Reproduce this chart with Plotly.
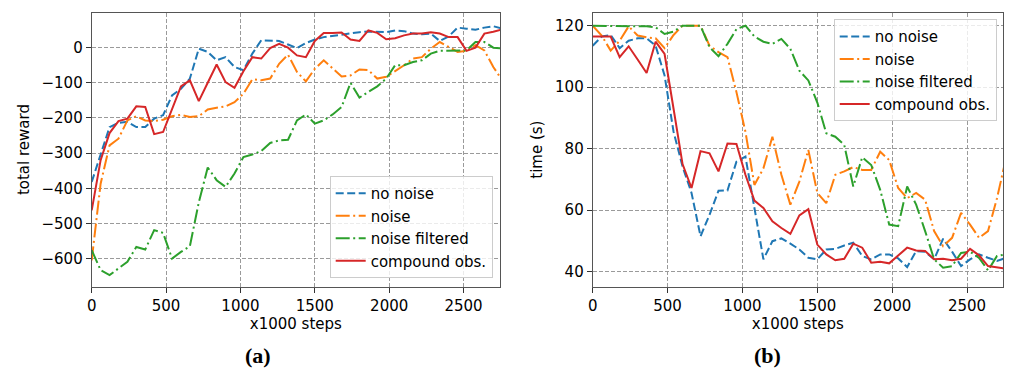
import plotly.graph_objects as go

# ---------------- data ----------------
steps = list(range(0, 2761, 60))  # x1000 steps

series_names = ["no noise", "noise", "noise filtered", "compound obs."]

reward_no_noise = [-382, -301, -226, -214, -211, -226, -226, -202, -192, -136,
                   -117, -88, -3, -12, -36, -27, -55, -64, -17, 21,
                   21, 19, 9, -1, 13, 23, 30, 34, 38, 40,
                   44, 46, 44, 44, 49, 47, 40, 38, 40, 19,
                   32, 57, 54, 51, 57, 61, 54]
reward_noise = [-605, -387, -278, -259, -207, -195, -207, -209, -205, -195,
                -191, -197, -195, -176, -171, -167, -155, -131, -90, -93,
                -88, -46, -20, -69, -96, -60, -36, -60, -82, -79,
                -62, -64, -88, -83, -67, -50, -31, -27, -3, 16,
                2, -12, -9, 7, -8, -55, -93]
reward_noise_filtered = [-576, -633, -647, -628, -609, -567, -574, -519, -527, -600,
                         -581, -565, -440, -341, -377, -396, -358, -311, -304, -294,
                         -271, -264, -262, -207, -190, -216, -207, -190, -169, -100,
                         -142, -126, -110, -88, -50, -50, -41, -36, -17, -9,
                         -8, -9, -8, 16, 16, 0, -2]
reward_compound = [-463, -320, -243, -209, -202, -167, -169, -246, -240, -175,
                   -110, -93, -152, -100, -48, -98, -114, -67, -27, -31,
                   -1, 11, 0, -22, -27, 19, 42, 42, 43, 23,
                   19, 49, 42, 24, 27, 35, 40, 40, 44, 40,
                   30, 30, -9, 0, 40, 45, 52]

time_no_noise = [113.5, 116.5, 117, 112.7, 115.1, 115.9, 115.9, 113.5, 103.8, 85.5,
                 74.2, 65.6, 51.5, 58.5, 66.3, 66.4, 75.8, 77.4, 60.7, 44,
                 49.9, 50.8, 49.1, 47.2, 44.5, 44, 47.2, 47.4, 48.5, 49.4,
                 45.1, 44, 45.6, 45.6, 44.3, 41.5, 46.7, 46.5, 44, 50.7,
                 46.5, 41.8, 44, 45.6, 44.5, 43.5, 44.5]
time_noise = [120, 116.8, 111.9, 115.1, 119.8, 116.8, 116.2, 115.9, 112.7, 117,
              120, 120, 120, 113.5, 111.4, 109.8, 98.4, 85.5, 68.2, 73.6,
              83.9, 71.5, 61.8, 69.3, 79.6, 65.6, 62.3, 71.5, 72.6, 74,
              73.1, 73.1, 79, 76.3, 67.2, 63.9, 65.6, 63.4, 53.2, 48.3,
              51, 59.1, 55.3, 51, 53.2, 63.9, 76.9]
time_noise_filtered = [120, 120, 120, 120, 120, 119.8, 119.8, 119.5, 117.3, 118.1,
                       120, 120, 120, 113, 110.1, 114.1, 118.9, 120, 116.5, 114.8,
                       114.1, 115.7, 112.5, 105.4, 102.2, 95, 85, 83.9, 81.2, 67.7,
                       77.2, 74.7, 66.6, 55.3, 54.8, 67.7, 61.8, 53.2, 44, 41.3,
                       41.8, 46.1, 46.5, 44.5, 40.4, 45.1, 45.6]
time_compound = [116.5, 116.5, 116.5, 109.8, 113.3, 109, 104.6, 114.8, 110.8, 93,
                 75, 67.2, 79.2, 78.5, 72.6, 81.7, 81.5, 71.5, 63.1, 60.7,
                 56.4, 54.2, 52.3, 58.3, 60.3, 48.8, 45.6, 43.7, 44.2, 49.1,
                 47.8, 42.9, 43.2, 42.7, 45.1, 47.8, 46.9, 46.7, 44, 44.2,
                 43.7, 44.2, 47.4, 45.3, 41.8, 41.5, 41]

x_ticks = [0, 500, 1000, 1500, 2000, 2500]
reward_ticks = [-600, -500, -400, -300, -200, -100, 0]
reward_tick_labels = ["\u2212600", "\u2212500", "\u2212400", "\u2212300", "\u2212200", "\u2212100", "0"]
time_ticks = [40, 60, 80, 100, 120]
time_tick_labels = ["40", "60", "80", "100", "120"]

# ---------------- styles ----------------
colors = ["#1f77b4", "#ff7f0e", "#2ca02c", "#d62728"]
dashes = ["8px,3.5px", "14px,3.5px,2px,3.5px", "14px,3.5px,2px,3.5px", "solid"]
FONT = "DejaVu Sans"

fig = go.Figure()

left_data = [reward_no_noise, reward_noise, reward_noise_filtered, reward_compound]
right_data = [time_no_noise, time_noise, time_noise_filtered, time_compound]

for name, ys, c, d in zip(series_names, left_data, colors, dashes):
    fig.add_trace(go.Scatter(x=steps, y=ys, mode="lines", name=name,
                             line=dict(color=c, width=2, dash=d),
                             xaxis="x", yaxis="y", legend="legend"))
for name, ys, c, d in zip(series_names, right_data, colors, dashes):
    fig.add_trace(go.Scatter(x=steps, y=ys, mode="lines", name=name,
                             line=dict(color=c, width=2, dash=d),
                             xaxis="x2", yaxis="y2", legend="legend2"))

W, H = 1014, 370
axis_common = dict(
    showline=True, mirror=True, linecolor="#555555", linewidth=1,
    ticks="outside", ticklen=5, tickcolor="#333333", tickwidth=1,
    showgrid=True, gridcolor="#9a9a9a", griddash="4px,2px", gridwidth=1,
    zeroline=False, automargin=False,
    tickfont=dict(family=FONT, size=15, color="#000000"),
)

y0, y1 = (H - 286.7) / H, (H - 12.5) / H

fig.update_layout(
    width=W, height=H,
    margin=dict(l=0, r=0, t=0, b=0),
    paper_bgcolor="white", plot_bgcolor="white",
    font=dict(family=FONT, size=15, color="#000000"),
    xaxis=dict(axis_common, domain=[91.7 / W, 500 / W], range=[0, 2745],
               tickvals=x_ticks, anchor="y",
               title=dict(text="x1000 steps", standoff=3,
                          font=dict(family=FONT, size=15))),
    yaxis=dict(axis_common, domain=[y0, y1], range=[-680, 100],
               tickvals=reward_ticks, ticktext=reward_tick_labels, anchor="x",
               title=dict(text="total reward", standoff=8,
                          font=dict(family=FONT, size=15))),
    xaxis2=dict(axis_common, domain=[592.7 / W, 1003 / W], range=[0, 2740],
                tickvals=x_ticks, anchor="y2",
                title=dict(text="x1000 steps", standoff=3,
                           font=dict(family=FONT, size=15))),
    yaxis2=dict(axis_common, domain=[y0, y1], range=[35.1, 124.3],
                tickvals=time_ticks, ticktext=time_tick_labels, anchor="x2",
                title=dict(text="time (s)", standoff=8,
                           font=dict(family=FONT, size=15))),
    legend=dict(x=492.7 / W, xanchor="right", y=(H - 278) / H, yanchor="bottom",
                bgcolor="rgba(255,255,255,0.8)", bordercolor="#cccccc", borderwidth=1,
                font=dict(family=FONT, size=15), itemwidth=30),
    legend2=dict(x=996.7 / W, xanchor="right", y=(H - 19.3) / H, yanchor="top",
                 bgcolor="rgba(255,255,255,0.8)", bordercolor="#cccccc", borderwidth=1,
                 font=dict(family=FONT, size=15), itemwidth=30),
    annotations=[
        dict(text="<b>(a)</b>", x=258 / W, y=(H - 355) / H, xref="paper", yref="paper",
             xanchor="center", yanchor="middle",
             showarrow=False, font=dict(family="Liberation Serif", size=22, color="#000000")),
        dict(text="<b>(b)</b>", x=767 / W, y=(H - 355) / H, xref="paper", yref="paper",
             xanchor="center", yanchor="middle",
             showarrow=False, font=dict(family="Liberation Serif", size=22, color="#000000")),
    ],
)

fig.write_html("out.html")
